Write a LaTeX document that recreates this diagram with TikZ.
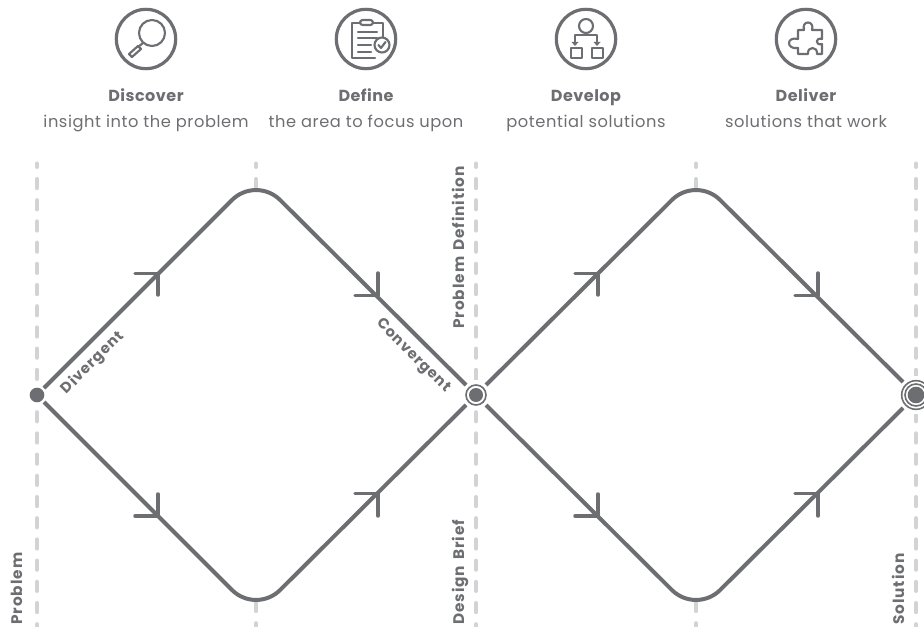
\documentclass[tikz,border=0pt]{standalone}
\usetikzlibrary{calc}
\usepackage{fontspec}
\setmainfont{Poppins}
\newfontfamily\hfam[LetterSpace=3]{Poppins}
\newfontfamily\sfam[LetterSpace=3.5]{Poppins}
\newfontfamily\lfam[LetterSpace=6,WordSpace=1.4]{Poppins}
\definecolor{ink}{HTML}{6D6E71}
\definecolor{dash}{HTML}{D1D3D4}
\tikzset{
  flow/.style={draw=ink,line width=3pt},
  barb/.style={draw=ink,line width=2.6pt,line cap=round,line join=round},
  guide/.style={draw=dash,line width=3pt,line cap=round,dash pattern=on 6.9pt off 9pt},
  ring/.style={draw=ink,line width=2.4pt,circle,inner sep=0pt,minimum size=44.5pt},
  thin/.style={draw=ink,line width=1.6pt,line cap=round,line join=round},
  head/.style={text=ink,anchor=base,font=\fontsize{12pt}{14pt}\hfam\bfseries},
  sub/.style={text=ink,anchor=base,font=\fontsize{12.2pt}{14pt}\sfam},
  side/.style={text=ink,font=\fontsize{11.5pt}{13pt}\lfam\bfseries,rotate=90,inner sep=0pt,anchor=base west},
  diag/.style={text=ink,font=\fontsize{11pt}{13pt}\lfam\bfseries,inner sep=0pt},
}
\begin{document}
\begin{tikzpicture}[x=0.75pt,y=-0.75pt]
\useasboundingbox (0,0) rectangle (924,627);
% guides
\foreach \n/\gx in {a/37,c/476,e/916}{
  \coordinate (g\n t) at (\gx,163.5);
  \coordinate (g\n b) at (\gx,632);
  \draw[guide,dash phase=4.3pt] (g\n t) -- (g\n b);
}
\foreach \n/\gx in {b/256,d/696}{
  \coordinate (g\n t) at (\gx,163.5);
  \coordinate (g\n m) at (\gx,190);
  \coordinate (g\n n) at (\gx,602);
  \coordinate (g\n b) at (\gx,632);
  \draw[guide,dash phase=4.3pt] (g\n t) -- (g\n m);
  \draw[guide] (g\n n) -- (g\n b);
}
% hubs
\coordinate (hA) at (37,395);
\coordinate (hB) at (476,395);
\coordinate (hC) at (916,395);
\coordinate (t1) at (256,176); \coordinate (b1) at (256,614);
\coordinate (t2) at (696,176); \coordinate (b2) at (696,614);
\fill[white] (37,395) circle (12);
\fill[white] (476,395) circle (15);
\fill[white] (916,395) circle (19);
% diamonds
\begin{scope}[rounded corners=25.5pt]
\draw[flow] ($(hA)+(7,-7)$) -- (t1) -- ($(hB)+(-10,-10)$);
\draw[flow] ($(hA)+(7,7)$) -- (b1) -- ($(hB)+(-10,10)$);
\draw[flow] ($(hB)+(10,-10)$) -- (t2) -- ($(hC)+(-13,-13)$);
\draw[flow] ($(hB)+(10,10)$) -- (b2) -- ($(hC)+(-13,13)$);
\end{scope}
% barbs
\foreach \ax in {158,598}{
  \draw[barb] (\ax-23,273.5) -- (\ax,273.5) -- (\ax,295);
  \draw[barb] (\ax-23,516) -- (\ax,516) -- (\ax,494);
  \draw[barb] (\ax+220-23,295.5) -- (\ax+220,295.5) -- (\ax+220,273);
  \draw[barb] (\ax+220-23,493.5) -- (\ax+220,493.5) -- (\ax+220,516);
}
% hub marks
\node[circle,fill=ink,inner sep=0pt,minimum size=11pt] (nA) at (hA) {};
\node[circle,fill=ink,inner sep=0pt,minimum size=10.5pt] (nB) at (hB) {};
\node[circle,draw=ink,line width=1.2pt,inner sep=0pt,minimum size=15pt] (nB2) at (hB) {};
\node[circle,fill=ink,inner sep=0pt,minimum size=12.5pt] (nC) at (hC) {};
\node[circle,draw=ink,line width=1.2pt,inner sep=0pt,minimum size=16.5pt] (nC2) at (hC) {};
\node[circle,draw=ink,line width=1.2pt,inner sep=0pt,minimum size=21.5pt] (nC3) at (hC) {};
% labels
\node[diag,rotate=45] (ldiv) at (93,363) {Divergent};
\node[diag,rotate=-45] (lcon) at (413,356) {Convergent};
\node[side] (lprob) at (464,329) {Problem Definition};
\node[side] (ldb) at (464,625) {Design Brief};
\node[side] (lp) at (22,625) {Problem};
\node[side] (ls) at (904,625) {Solution};
% headings
\node[head] (h1) at (146,101.5) {Discover};
\node[sub] (s1) at (146,127.5) {insight into the problem};
\node[head] (h2) at (366,101.5) {Define};
\node[sub] (s2) at (366,127.5) {the area to focus upon};
\node[head] (h3) at (586,101.5) {Develop};
\node[sub] (s3) at (586,127.5) {potential solutions};
\node[head] (h4) at (806,101.5) {Deliver};
\node[sub] (s4) at (806,127.5) {solutions that work};
% icon rings
\node[ring] (i1) at (146,39) {};
\node[ring] (i2) at (366,39) {};
\node[ring] (i3) at (586,39) {};
\node[ring] (i4) at (806,39) {};
% magnifier
\draw[thin] (152,33) circle (13);
\draw[thin] (143,43) -- (138,47);
\draw[thin] (138,46) -- (129,54) -- (132,57) -- (141,49) -- cycle;
% clipboard
\draw[thin] (360,23) -- (352,23) -- (352,58) -- (375,58);
\draw[thin] (373,23) -- (383,23) -- (383,37);
\draw[thin,rounded corners=2pt] (360,20) rectangle (373,25);
\draw[thin] (358,32) -- (377,32);
\draw[thin] (358,38) -- (377,38);
\draw[thin] (358,45) -- (371,45);
\draw[thin] (358,52) -- (371,52);
\draw[thin] (382,45) circle (7.5);
\draw[thin] (378.5,45) -- (381,48) -- (385.5,42);
% hierarchy
\draw[thin] (586,26) circle (7);
\draw[thin] (586,33) -- (586,35);
\draw[thin] (575,44) -- (575,35) -- (597,35) -- (597,44);
\fill[ink] (571.5,42) -- (578.5,42) -- (575,46) -- cycle;
\fill[ink] (593.5,42) -- (600.5,42) -- (597,46) -- cycle;
\draw[thin] (571,48) rectangle (582,58);
\draw[thin] (592,48) rectangle (603,58);
% puzzle
\draw[thin] (798,30) -- (804,30) .. controls (801,20) and (815,20) .. (812,30) -- (822,30) -- (822,39)
  .. controls (815,37) and (815,46) .. (822,44) -- (822,54) -- (817,54)
  .. controls (818,46) and (807,46) .. (808,54) -- (798,54) -- (798,48)
  .. controls (786,50) and (786,36) .. (798,39) -- cycle;
\end{tikzpicture}
\end{document}
